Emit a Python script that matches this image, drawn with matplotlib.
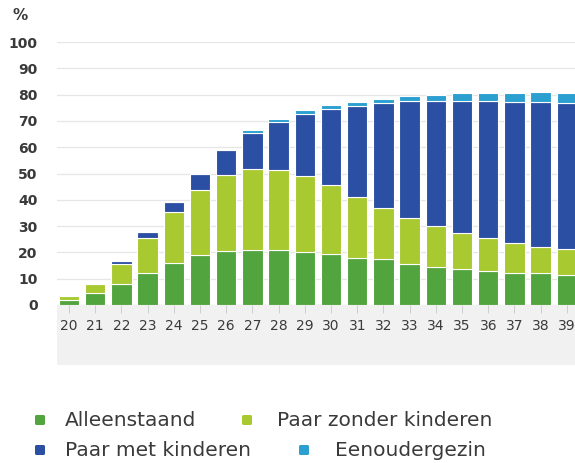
import numpy as np
import matplotlib
matplotlib.use("Agg")
import matplotlib.pyplot as plt
from matplotlib.patches import Rectangle, FancyBboxPatch

# leeftijd en aandeel (%) per huishoudtype
leeftijd = list(range(20, 40))
alleenstaand = [2.0, 4.5, 8.0, 12.0, 16.0, 19.0, 20.5, 21.0, 21.0, 20.3,
                19.4, 18.0, 17.4, 15.5, 14.6, 13.6, 13.0, 12.0, 12.0, 11.4]
paar_zonder = [1.5, 3.5, 7.5, 13.5, 19.3, 24.7, 29.0, 30.7, 30.2, 28.9,
               26.2, 23.0, 19.6, 17.5, 15.4, 13.9, 12.3, 11.4, 10.2, 9.9]
paar_met = [0.3, 0.3, 1.3, 2.2, 3.8, 6.3, 9.5, 13.8, 18.5, 23.3,
            29.0, 34.5, 39.7, 44.4, 47.4, 49.9, 52.1, 53.8, 55.0, 55.4]
eenouder = [0.1, 0.1, 0.3, 0.3, 0.3, 0.3, 0.5, 1.0, 1.2, 1.6,
            1.4, 1.7, 1.8, 2.1, 2.6, 3.1, 3.1, 3.3, 3.8, 3.8]

series = [
    ("Alleenstaand", alleenstaand, "#52a43e"),
    ("Paar zonder kinderen", paar_zonder, "#a8c92f"),
    ("Paar met kinderen", paar_met, "#2b4fa2"),
    ("Eenoudergezin", eenouder, "#2b9fd0"),
]

W, H = 575, 463
fig = plt.figure(figsize=(W / 100, H / 100), dpi=100)
fig.patch.set_facecolor("white")

# grijze band onder de x-as
fig.patches.append(Rectangle((57 / W, 1 - 365 / H), 1 - 57 / W, 60 / H,
                             transform=fig.transFigure, facecolor="#f1f1f1",
                             edgecolor="none", zorder=-1))

ax = fig.add_axes([57 / W, 1 - 305 / H, 1 - 57 / W, 263 / H])
ax.set_facecolor("white")
ax.set_zorder(1)

onder = np.zeros(len(leeftijd))
for naam, waarden, kleur in series:
    ax.bar(leeftijd, waarden, bottom=onder, width=0.78, color=kleur,
           edgecolor="white", linewidth=0.8, zorder=3)
    onder += np.array(waarden)

ax.set_xlim(19.54, 39.31)
ax.set_ylim(0, 100)
ax.set_yticks(range(0, 101, 10))
ax.set_xticks(leeftijd)
ax.yaxis.grid(True, color="#e6e6e6", linewidth=0.9, zorder=0)
for s in ax.spines.values():
    s.set_visible(False)

ax.tick_params(axis="y", length=0, pad=14, labelsize=10, labelcolor="#3a3a3a")
ax.tick_params(axis="x", length=6, width=0.6, color="#c8c8c8", pad=4,
               labelsize=10, labelcolor="#3a3a3a")
for lbl in ax.get_yticklabels():
    lbl.set_fontweight("semibold")

fig.text(12 / W, 1 - 16 / H, "%", fontsize=11, color="#3a3a3a",
         va="center", ha="left", fontweight="semibold")

# legenda
items = [
    ("Alleenstaand", "#52a43e", 35, 65, 420),
    ("Paar zonder kinderen", "#a8c92f", 242, 277, 420),
    ("Paar met kinderen", "#2b4fa2", 35, 65, 450),
    ("Eenoudergezin", "#2b9fd0", 299, 335, 450),
]
for tekst, kleur, mx, tx, y in items:
    sz = 10
    fig.patches.append(FancyBboxPatch((mx / W, 1 - (y + sz / 2) / H), sz / W, sz / H,
                                      boxstyle="round,pad=0,rounding_size=0.003",
                                      transform=fig.transFigure, facecolor=kleur,
                                      edgecolor="none"))
    fig.text(tx / W, 1 - y / H, tekst, fontsize=14.5, color="#3a3a3a",
             va="center", ha="left")

fig.savefig("out.png", dpi=100)
